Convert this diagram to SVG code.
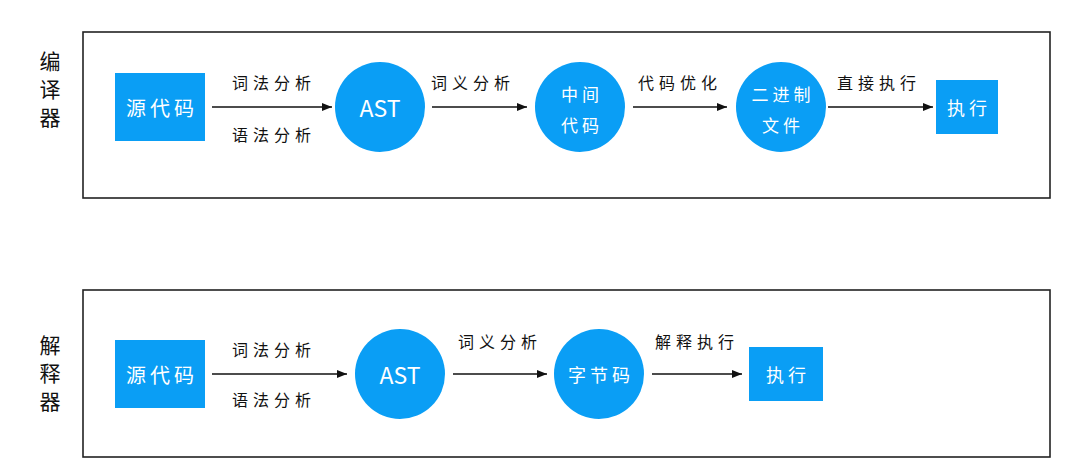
<svg xmlns="http://www.w3.org/2000/svg" width="1079" height="475" viewBox="0 0 1079 475">
<style>
.frame{fill:#fff;stroke:#222;stroke-width:1.6}
.node{fill:#0A9EF5}
.t{font-family:"Noto Sans CJK SC","Liberation Sans",sans-serif;fill:#fff;text-anchor:middle;dominant-baseline:central}
.big{font-size:20px;letter-spacing:4px}
.lbl{font-family:"Noto Sans CJK SC","Liberation Sans",sans-serif;font-size:16px;fill:#111;text-anchor:middle;dominant-baseline:central;letter-spacing:5px}
.side{font-family:"Noto Sans CJK SC","Liberation Sans",sans-serif;font-size:21px;fill:#111;text-anchor:middle;writing-mode:vertical-rl;letter-spacing:7px}
.edge{stroke:#111;stroke-width:1.5;fill:none;marker-end:url(#ah)}
</style>
<defs>
<marker id="ah" viewBox="0 0 10 10" refX="10" refY="5" markerWidth="10" markerHeight="10" markerUnits="userSpaceOnUse" orient="auto">
<path d="M0,1 L10,5 L0,9 Z" fill="#111"/>
</marker>
</defs>
<rect width="1079" height="475" fill="#fff"/>
<g id="frames">
<rect class="frame" x="83" y="32" width="967" height="166"/>
<rect class="frame" x="83" y="290" width="967" height="167"/>
</g>
<g id="side-labels">
<text class="side" x="50" y="93">编译器</text>
<text class="side" x="50" y="377">解释器</text>
</g>
<g id="connectors">
<line class="edge" x1="212" y1="107" x2="332" y2="107"/>
<line class="edge" x1="432" y1="107" x2="527" y2="107"/>
<line class="edge" x1="633" y1="107" x2="727" y2="107"/>
<line class="edge" x1="828" y1="107" x2="933" y2="107"/>
<line class="edge" x1="212" y1="374" x2="347" y2="374"/>
<line class="edge" x1="453" y1="374" x2="547" y2="374"/>
<line class="edge" x1="652" y1="374" x2="742" y2="374"/>
</g>
<g id="edge-labels">
<text class="lbl" x="274" y="82">词法分析</text>
<text class="lbl" x="274" y="134">语法分析</text>
<text class="lbl" x="473" y="82">词义分析</text>
<text class="lbl" x="680" y="82">代码优化</text>
<text class="lbl" x="879" y="82">直接执行</text>
<text class="lbl" x="274" y="349">词法分析</text>
<text class="lbl" x="274" y="399">语法分析</text>
<text class="lbl" x="500" y="341">词义分析</text>
<text class="lbl" x="697" y="341">解释执行</text>
</g>
<g id="c-src">
<rect class="node" x="115" y="73" width="90" height="68"/>
<text class="t big" x="162" y="107">源代码</text>
</g>
<g id="c-ast">
<circle class="node" cx="380" cy="107" r="45"/>
<text class="t" x="380" y="107" font-size="23">AST</text>
</g>
<g id="c-ir">
<circle class="node" cx="580" cy="107" r="45"/>
<text class="t" x="582" y="93" font-size="17" letter-spacing="4">中间</text>
<text class="t" x="582" y="124" font-size="17" letter-spacing="4">代码</text>
</g>
<g id="c-bin">
<circle class="node" cx="781" cy="107" r="45"/>
<text class="t" x="783" y="93" font-size="17" letter-spacing="4">二进制</text>
<text class="t" x="783" y="124" font-size="17" letter-spacing="4">文件</text>
</g>
<g id="c-exec">
<rect class="node" x="936" y="80" width="62" height="54"/>
<text class="t" x="969" y="107" font-size="18" letter-spacing="4">执行</text>
</g>
<g id="i-src">
<rect class="node" x="115" y="340" width="90" height="68"/>
<text class="t big" x="162" y="374">源代码</text>
</g>
<g id="i-ast">
<circle class="node" cx="400" cy="374" r="45"/>
<text class="t" x="400" y="374" font-size="23">AST</text>
</g>
<g id="i-bc">
<circle class="node" cx="599" cy="374" r="45"/>
<text class="t" x="601" y="374" font-size="18" letter-spacing="4">字节码</text>
</g>
<g id="i-exec">
<rect class="node" x="749" y="347" width="74" height="54"/>
<text class="t" x="788" y="374" font-size="18" letter-spacing="4">执行</text>
</g>
</svg>
